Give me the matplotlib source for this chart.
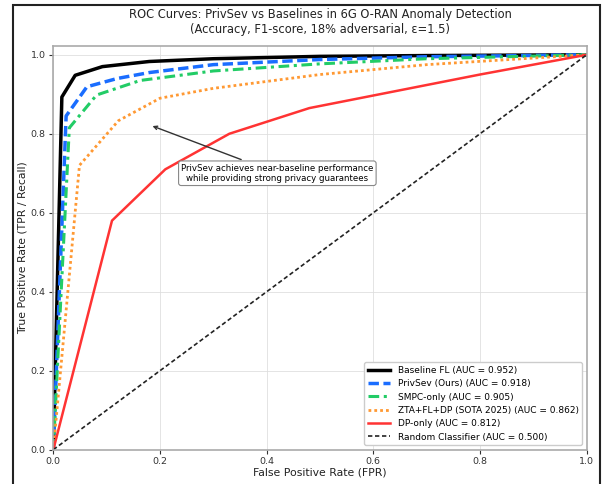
import matplotlib
matplotlib.use("Agg")
import matplotlib.pyplot as plt
from matplotlib.patches import Rectangle

# ---- data ----
fpr_baseline = [0.0, 0.016, 0.041, 0.092, 0.18, 0.30, 0.50, 0.70, 1.0]
tpr_baseline = [0.0, 0.893, 0.948, 0.970, 0.983, 0.990, 0.996, 0.998, 1.0]

fpr_privsev = [0.0, 0.024, 0.063, 0.12, 0.18, 0.30, 0.50, 0.70, 1.0]
tpr_privsev = [0.0, 0.845, 0.919, 0.940, 0.955, 0.975, 0.988, 0.995, 1.0]

fpr_smpc = [0.0, 0.03, 0.081, 0.163, 0.30, 0.50, 0.70, 1.0]
tpr_smpc = [0.0, 0.815, 0.898, 0.935, 0.959, 0.977, 0.990, 1.0]

fpr_zta = [0.0, 0.049, 0.122, 0.20, 0.30, 0.50, 0.70, 1.0]
tpr_zta = [0.0, 0.72, 0.833, 0.89, 0.915, 0.95, 0.975, 1.0]

fpr_dp = [0.0, 0.11, 0.21, 0.33, 0.48, 0.80, 1.0]
tpr_dp = [0.0, 0.58, 0.71, 0.80, 0.865, 0.95, 1.0]

fpr_random = [0.0, 1.0]
tpr_random = [0.0, 1.0]

labels = [
    "Baseline FL (AUC = 0.952)",
    "PrivSev (Ours) (AUC = 0.918)",
    "SMPC-only (AUC = 0.905)",
    "ZTA+FL+DP (SOTA 2025) (AUC = 0.862)",
    "DP-only (AUC = 0.812)",
    "Random Classifier (AUC = 0.500)",
]
ticks = [0.0, 0.2, 0.4, 0.6, 0.8, 1.0]

fig = plt.figure(figsize=(6.08, 4.84), dpi=100)
ax = fig.add_axes([0.0877, 0.0709, 0.8773, 0.8347])

ax.plot(fpr_baseline, tpr_baseline, color="black", lw=2.5, ls="-", label=labels[0])
ax.plot(fpr_privsev, tpr_privsev, color="#1a6dff", lw=2.5, ls=(0, (3, 1.3)), label=labels[1])
ax.plot(fpr_smpc, tpr_smpc, color="#22cc66", lw=2.2, ls=(0, (3.5, 1.5, 1, 1.5)), label=labels[2])
ax.plot(fpr_zta, tpr_zta, color="#ff9933", lw=2.0, ls=(0, (1, 1.1)), label=labels[3])
ax.plot(fpr_dp, tpr_dp, color="#ff3333", lw=1.8, ls="-", label=labels[4])
ax.plot(fpr_random, tpr_random, color="#222222", lw=1.2, ls=(0, (2.6, 1.6)), label=labels[5])

ax.set_xlim(0, 1)
ax.set_ylim(0, 1.023)
ax.set_xticks(ticks)
ax.set_yticks(ticks)
ax.tick_params(labelsize=6.8, colors="#333333", length=3, pad=2.5)
ax.grid(True, color="#dddddd", lw=0.7, alpha=0.8)
for s in ax.spines.values():
    s.set_color("#aaaaaa")
    s.set_linewidth(1.2)

ax.set_xlabel("False Positive Rate (FPR)", fontsize=7.8, color="#222222")
ax.set_ylabel("True Positive Rate (TPR / Recall)", fontsize=7.8, color="#222222")
ax.xaxis.set_label_coords(0.5, -0.044)
ax.yaxis.set_label_coords(-0.048, 0.5)
ax.set_title("ROC Curves: PrivSev vs Baselines in 6G O-RAN Anomaly Detection\n"
             "(Accuracy, F1-score, 18% adversarial, ε=1.5)", fontsize=8.3, color="#222222", pad=9)

ax.annotate("PrivSev achieves near-baseline performance\nwhile providing strong privacy guarantees",
            xy=(0.181, 0.822), xytext=(0.42, 0.70), fontsize=6.2, ha="center", va="center",
            bbox=dict(boxstyle="round,pad=0.3", fc="white", ec="#888888", lw=0.8),
            arrowprops=dict(arrowstyle="->", color="#333333", lw=1.0))

leg = ax.legend(loc="lower right", fontsize=6.5, frameon=True, fancybox=True, framealpha=1.0,
                edgecolor="#cccccc", handlelength=2.5, labelspacing=0.48)

fig.patches.append(Rectangle((13 / 608, -0.1), (600 - 13) / 608, 1.1 - 5 / 484,
                             transform=fig.transFigure, fill=False, ec="#222222", lw=1.5, zorder=10))

fig.savefig("out.png", dpi=100)
